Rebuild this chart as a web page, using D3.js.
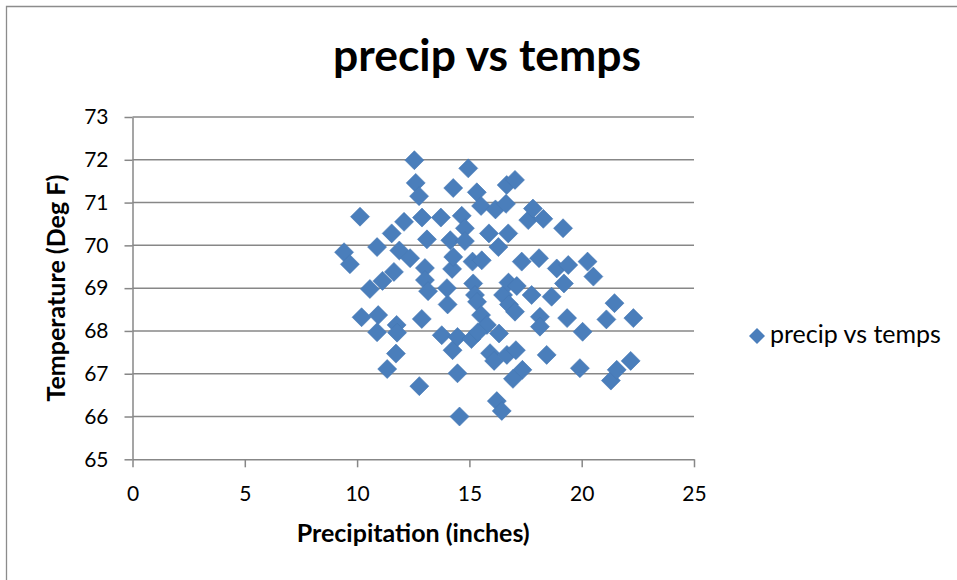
<!DOCTYPE html>
<html lang="en">
<head>
    <meta charset="UTF-8">
    <title>precip vs temps</title>

    <!-- Load d3.js -->
    <script src="https://d3js.org/d3.v7.min.js"></script>

    <style>
        body { margin: 0; background: #fff; }
        svg { display: block; font-family: Lato, "Open Sans", sans-serif; }
    </style>
</head>
<body>

    <div id="chart"></div>

    <script>

        // values
        var precip = [9.42, 9.68, 10.13, 10.20, 10.57, 10.89, 10.94, 10.89, 11.13, 11.34,
                      11.54, 11.64, 11.73, 11.76, 11.78, 11.88, 12.09, 12.36, 12.55, 12.61,
                      12.76, 12.77, 12.88, 12.89, 13.02, 13.02, 13.11, 13.16, 13.73, 13.77,
                      14.03, 14.00, 14.15, 14.23, 14.28, 14.28, 14.25, 14.47, 14.47, 14.56,
                      14.66, 14.80, 14.80, 14.95, 15.09, 15.14, 15.17, 15.25, 15.34, 15.33,
                      15.52, 15.55, 15.52, 15.78, 15.38, 15.87, 15.92, 16.10, 16.16, 16.29,
                      16.32, 16.22, 16.44, 16.50, 16.63, 16.66, 16.73, 16.67, 16.76, 16.74,
                      17.03, 17.03, 17.11, 17.07, 17.33, 17.36, 16.94, 17.62, 17.77, 17.83,
                      18.10, 18.14, 18.14, 18.29, 18.44, 18.66, 18.89, 19.17, 19.21, 19.35,
                      19.40, 19.92, 20.04, 20.26, 20.52, 21.10, 21.46, 21.30, 21.56, 22.18,
                      22.30];

        var temps = [69.84, 69.56, 70.67, 68.32, 68.98, 69.96, 68.37, 67.97, 69.17, 67.11,
                     70.28, 69.38, 67.47, 68.14, 67.96, 69.88, 70.55, 69.70, 71.99, 71.46,
                     71.15, 66.71, 68.28, 70.65, 69.47, 69.19, 70.14, 68.93, 70.65, 67.90,
                     68.62, 69.00, 70.12, 69.45, 71.34, 69.73, 67.55, 67.86, 67.01, 66.00,
                     70.69, 70.40, 70.10, 71.80, 67.81, 69.62, 69.11, 68.84, 68.68, 71.24,
                     70.92, 69.65, 68.37, 68.14, 67.97, 70.28, 67.48, 67.30, 70.84, 69.96,
                     67.94, 66.36, 66.13, 68.84, 70.97, 71.41, 70.28, 67.44, 68.62, 69.13,
                     68.45, 71.53, 69.05, 67.55, 69.62, 67.09, 66.88, 70.59, 68.84, 70.86,
                     69.70, 68.33, 68.10, 70.62, 67.44, 68.80, 69.46, 70.40, 69.11, 68.30,
                     69.54, 67.13, 67.98, 69.62, 69.27, 68.27, 68.65, 66.84, 67.09, 67.30,
                     68.30];

        var xTicks = [0, 5, 10, 15, 20, 25];
        var yTicks = [65, 66, 67, 68, 69, 70, 71, 72, 73];

        var chartTitle = "precip vs temps";
        var seriesName = "precip vs temps";
        var xTitle = "Precipitation (inches)";
        var yTitle = "Temperature (Deg F)";

        var W = 957, H = 580;
        var margin = {top: 117, left: 132.5, right: 263, bottom: 120.7};
        var width = W - margin.left - margin.right,
            height = H - margin.top - margin.bottom;

        var gridColor = "#878787";
        var markColor = "#4a7ebb";

        var svg = d3.select("#chart")
            .append("svg")
                .attr("width", W)
                .attr("height", H);

        // outer chart border (only top and left are visible in the frame)
        svg.append("path")
            .attr("d", "M6.5," + H + "V6.5H" + W)
            .attr("fill", "none")
            .attr("stroke", "#8c8c8c")
            .attr("stroke-width", 1.3);

        // shrink or grow a text so that it spans the wanted width
        function fitText(sel, target) {
            var len = sel.node().getComputedTextLength();
            var fs = parseFloat(sel.attr("font-size"));
            sel.attr("font-size", (fs * target / len).toFixed(2));
        }

        // title
        var title = svg.append("text")
            .attr("x", 487)
            .attr("y", 71)
            .attr("text-anchor", "middle")
            .attr("font-size", 40)
            .attr("font-weight", "bold")
            .attr("fill", "#000")
            .text(chartTitle);
        fitText(title, 308);

        var g = svg.append("g")
            .attr("transform", "translate(" + margin.left + "," + margin.top + ")");

        // X axis
        var x = d3.scaleLinear()
            .domain([0, 25])
            .range([0, width]);

        // Y axis
        var y = d3.scaleLinear()
            .domain([65, 73])
            .range([height, 0]);

        // horizontal gridlines
        g.append("g")
            .selectAll("line")
            .data(yTicks.slice(1))
            .enter()
            .append("line")
                .attr("x1", 0)
                .attr("x2", width)
                .attr("y1", function(d) { return y(d); })
                .attr("y2", function(d) { return y(d); })
                .attr("stroke", gridColor)
                .attr("stroke-width", 1.5);

        var xAxis = g.append("g")
            .attr("transform", "translate(0," + height + ")")
            .call(d3.axisBottom(x).tickValues(xTicks).tickSize(8).tickSizeOuter(0).tickPadding(17));

        var yAxis = g.append("g")
            .call(d3.axisLeft(y).tickValues(yTicks).tickSize(8).tickSizeOuter(0).tickPadding(16));

        [xAxis, yAxis].forEach(function(ax) {
            ax.select(".domain").attr("stroke", gridColor).attr("stroke-width", 1.5);
            ax.selectAll(".tick line").attr("stroke", gridColor).attr("stroke-width", 1.5);
            ax.selectAll(".tick text")
                .attr("font-family", "Lato, 'Open Sans', sans-serif")
                .attr("font-size", 21)
                .attr("fill", "#000");
        });
        xAxis.selectAll(".tick text").attr("dy", "0.79em");

        // axis titles
        var xt = svg.append("text")
            .attr("x", margin.left + width / 2)
            .attr("y", 542)
            .attr("text-anchor", "middle")
            .attr("font-size", 18)
            .attr("font-weight", "bold")
            .text(xTitle);
        fitText(xt, 233);

        var yt = svg.append("text")
            .attr("transform", "translate(65," + (margin.top + height / 2) + ")rotate(-90)")
            .attr("text-anchor", "middle")
            .attr("font-size", 18)
            .attr("font-weight", "bold")
            .text(yTitle);
        fitText(yt, 227);

        // diamond markers
        var diamond = function(r) {
            return "M0," + (-r) + "L" + r + ",0L0," + r + "L" + (-r) + ",0Z";
        };

        g.append("g")
            .selectAll("path")
            .data(precip.map(function(p, i) { return [p, temps[i]]; }))
            .enter()
            .append("path")
                .attr("transform", function(d) { return "translate(" + x(d[0]) + "," + y(d[1]) + ")"; })
                .attr("d", diamond(9.5))
                .attr("fill", markColor)
                .attr("stroke", "#4577b3")
                .attr("stroke-width", 0.6);

        // legend
        var legend = svg.append("g")
            .attr("transform", "translate(757,336)");
        legend.append("path")
            .attr("d", diamond(8))
            .attr("fill", markColor);
        var lt = legend.append("text")
            .attr("x", 13)
            .attr("y", 6.5)
            .attr("font-size", 19)
            .attr("fill", "#000")
            .text(seriesName);
        fitText(lt, 171);

    </script>

</body>
</html>
